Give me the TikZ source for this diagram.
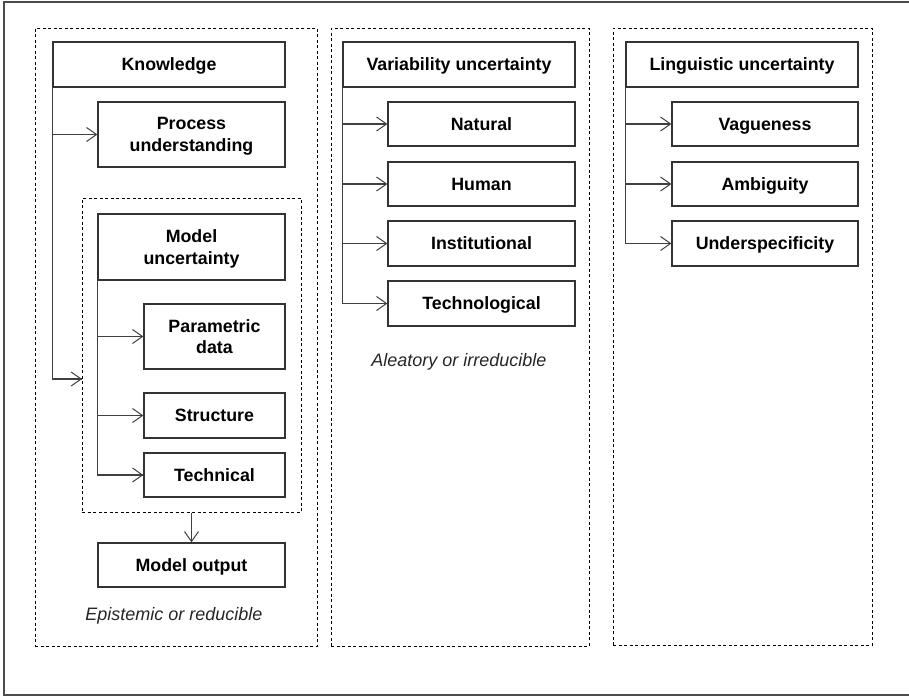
\documentclass[tikz,border=0pt]{standalone}
\usepackage{fontspec}
\setmainfont{Liberation Sans}
\usetikzlibrary{arrows.meta}
\begin{document}
\begin{tikzpicture}[x=1pt,y=-1pt,
  lbl/.style={font=\fontsize{17.8}{21.5}\selectfont\bfseries, align=center, text=black, text depth=0pt},
  box/.style={lbl, draw=black!80, line width=1.2pt, inner sep=0pt, rectangle},
  dbox/.style={draw=black, line width=1pt, dash pattern=on 3pt off 2.5pt, inner sep=0pt, rectangle},
  link/.style={draw=black!75, line width=1.2pt},
  arr/.style={link, -{Straight Barb[length=10pt,width=14pt,line width=1pt]}},
  note/.style={font=\fontsize{18}{21}\selectfont\itshape, text=black!85},
  frame/.style={draw=black!70, line width=1.5pt}]
\useasboundingbox (0,0) rectangle (909,697);

% outer frame, open to the right
\coordinate (ftr) at (915,2);
\coordinate (ftl) at (4,2);
\coordinate (fbl) at (4,695);
\coordinate (fbr) at (915,695);
\draw[frame] (ftr) -- (ftl) -- (fbl) -- (fbr);

% three dashed columns
\node[dbox, minimum width=282pt, minimum height=618pt] (colA) at (176,337) {};
\node[dbox, minimum width=258pt, minimum height=618pt] (colB) at (460,337) {};
\node[dbox, minimum width=259pt, minimum height=617pt] (colC) at (742.5,336.5) {};

% ---- epistemic column ----
\node[box, minimum width=232pt, minimum height=45pt] (know) at (169,64.5) {Knowledge};
\node[box, minimum width=187pt, minimum height=65pt] (proc) at (191.5,134.5) {Process\\understanding};
\node[dbox, minimum width=219pt, minimum height=314pt] (mgrp) at (191.5,355) {};
\node[box, minimum width=187pt, minimum height=66pt] (modu) at (191.5,247) {Model\\uncertainty};
\node[box, minimum width=141pt, minimum height=65pt] (param) at (214.5,336.5) {Parametric\\data};
\node[box, minimum width=141pt, minimum height=45pt] (struc) at (214.5,415.5) {Structure};
\node[box, minimum width=141pt, minimum height=44pt] (techl) at (214.5,475) {Technical};
\node[box, minimum width=187pt, minimum height=44pt] (mout) at (191.5,565) {Model output};
\node[note] (epi) at (174,616) {Epistemic or reducible};

\coordinate (mentry) at (82,379);
\draw[link] (know.south west) |- (mentry);
\draw[arr] (know.south west |- proc.west) -- (proc.west);
\draw[arr] (know.south west |- mentry) -- (mentry);

\draw[link] (modu.south west) |- (techl.west);
\draw[arr] (modu.south west |- param.west) -- (param.west);
\draw[arr] (modu.south west |- struc.west) -- (struc.west);
\draw[arr] (modu.south west |- techl.west) -- (techl.west);
\draw[arr] (mgrp.south -| mout.north) -- (mout.north);

% ---- aleatory column ----
\node[box, minimum width=232pt, minimum height=45pt] (vari) at (459,64.5) {Variability uncertainty};
\node[box, minimum width=187pt, minimum height=44pt] (nat) at (481.5,124) {Natural};
\node[box, minimum width=187pt, minimum height=44pt] (hum) at (481.5,184) {Human};
\node[box, minimum width=187pt, minimum height=45pt] (inst) at (481.5,243.5) {Institutional};
\node[box, minimum width=187pt, minimum height=45pt] (tecg) at (481.5,303.5) {Technological};
\node[note] (ale) at (459,362) {Aleatory or irreducible};

\draw[link] (vari.south west) |- (tecg.west);
\draw[arr] (vari.south west |- nat.west) -- (nat.west);
\draw[arr] (vari.south west |- hum.west) -- (hum.west);
\draw[arr] (vari.south west |- inst.west) -- (inst.west);
\draw[arr] (vari.south west |- tecg.west) -- (tecg.west);

% ---- linguistic column ----
\node[box, minimum width=232pt, minimum height=45pt] (ling) at (742,64.5) {Linguistic uncertainty};
\node[box, minimum width=186pt, minimum height=44pt] (vag) at (765,124) {Vagueness};
\node[box, minimum width=186pt, minimum height=44pt] (amb) at (765,184) {Ambiguity};
\node[box, minimum width=186pt, minimum height=45pt] (under) at (765,243.5) {Underspecificity};

\draw[link] (ling.south west) |- (under.west);
\draw[arr] (ling.south west |- vag.west) -- (vag.west);
\draw[arr] (ling.south west |- amb.west) -- (amb.west);
\draw[arr] (ling.south west |- under.west) -- (under.west);
\end{tikzpicture}
\end{document}
